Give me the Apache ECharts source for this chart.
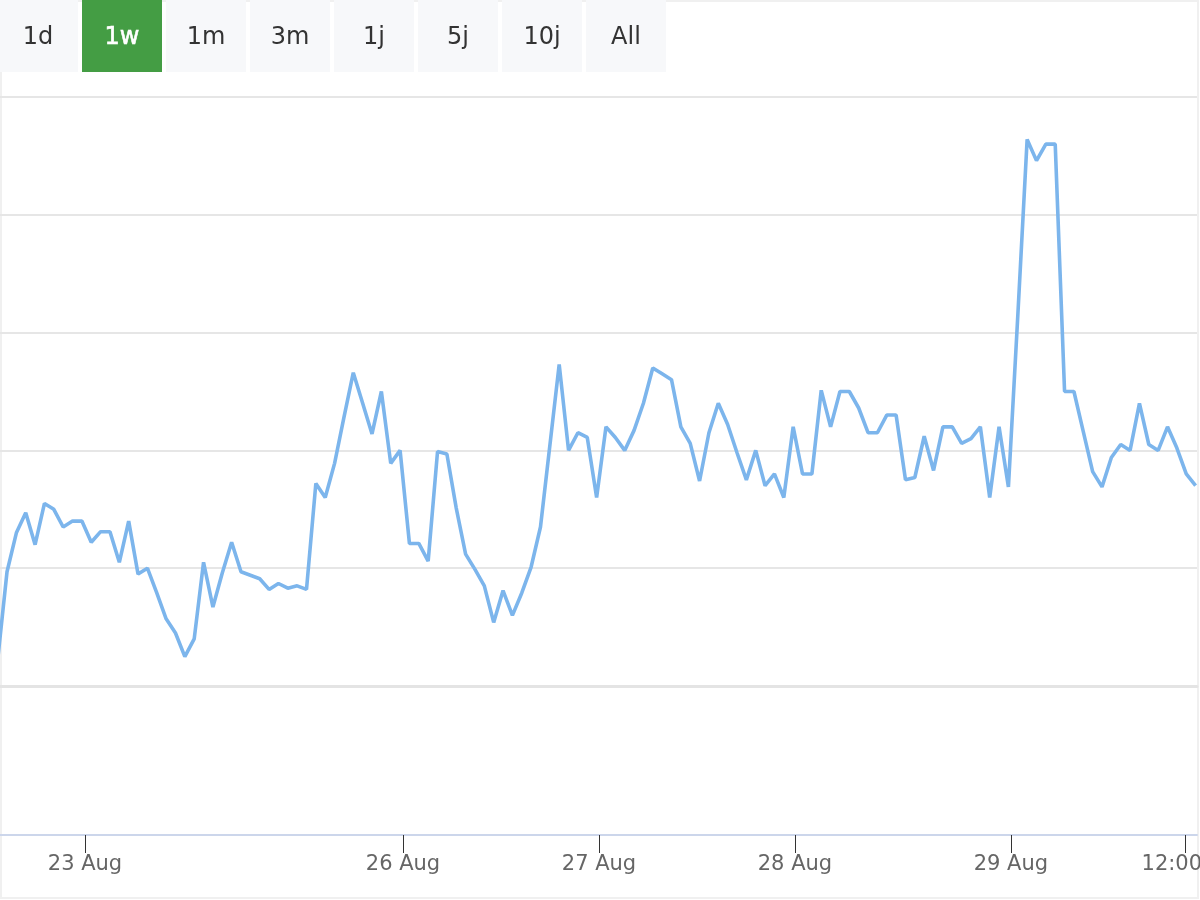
<!DOCTYPE html>
<html>
<head>
<meta charset="utf-8">
<script src="https://cdn.jsdelivr.net/npm/echarts@6/dist/echarts.min.js"></script>
<style>
    html, body { margin: 0; padding: 0; background: #fff; }
    #chart { width: 1200px; height: 900px; }
</style>
</head>
<body>
<div id="chart"></div>
<script>
// point values (ordinal axis, one per data point), first one sits just off the left edge
const values = [
    2.2, 9.7, 13.0, 14.7, 12.0, 15.5, 15.0, 13.5, 14.0, 14.0,
    12.2, 13.1, 13.1, 10.5, 14.0, 9.5, 10.0, 7.9, 5.7, 4.5,
    2.5, 4.0, 10.5, 6.7, 9.6, 12.2, 9.7, 9.4, 9.1, 8.2,
    8.7, 8.3, 8.5, 8.2, 17.2, 16.0, 18.9, 22.8, 26.6, 24.0,
    21.4, 25.0, 18.9, 20.0, 12.1, 12.1, 10.6, 19.9, 19.7, 15.1,
    11.2, 9.9, 8.5, 5.4, 8.1, 6.0, 7.9, 10.1, 13.5, 20.4,
    27.3, 20.0, 21.5, 21.1, 16.0, 22.0, 21.1, 20.0, 21.7, 24.0,
    27.0, 26.5, 26.0, 22.0, 20.6, 17.4, 21.5, 24.0, 22.2, 19.8,
    17.5, 20.0, 17.0, 18.0, 16.0, 22.0, 18.0, 18.0, 25.1, 22.0,
    25.0, 25.0, 23.6, 21.5, 21.5, 23.0, 23.0, 17.5, 17.7, 21.2,
    18.3, 22.0, 22.0, 20.6, 21.0, 22.0, 16.0, 22.0, 16.9, 31.4,
    46.4, 44.6, 46.0, 46.0, 25.0, 25.0, 21.6, 18.2, 16.9, 19.4,
    20.5, 20.0, 24.0, 20.5, 20.0, 22.0, 20.2, 18.0, 17.0
];
const tickPositions = [9.33, 43.31, 64.25, 85.19, 108.26, 126.85];
const tickLabels = ["23 Aug", "26 Aug", "27 Aug", "28 Aug", "29 Aug", "12:00"];
const rangeButtons = ["1d", "1w", "1m", "3m", "1j", "5j", "10j", "All"];
const selectedRange = "1w";

const font = "DejaVu Sans";
let chart = echarts.init(document.getElementById("chart"));

// range selector buttons
let buttons = rangeButtons.map(function (name, i) {
    let active = name === selectedRange;
    return {
        type: "group",
        x: -2 + i * 84,
        y: 0,
        children: [
            {
                type: "rect",
                shape: { x: 0, y: 0, width: 80, height: 72 },
                style: { fill: active ? "#449d44" : "#f7f8fa" }
            },
            {
                type: "text",
                x: 40,
                y: 38,
                style: {
                    text: name,
                    fill: active ? "#ffffff" : "#333333",
                    font: "24px '" + font + "'",
                    align: "center",
                    verticalAlign: "middle",
                    // selected label looks a touch heavier
                    stroke: active ? "#ffffff" : null,
                    lineWidth: active ? 0.6 : 0
                }
            }
        ]
    };
});

const option = {
    animation: false,
    backgroundColor: "#ffffff",
    textStyle: { fontFamily: font },
    graphic: [
        {
            type: "rect",
            z: -10,
            shape: { x: 1, y: 1, width: 1197, height: 897 },
            style: { fill: "none", stroke: "#f0f0f0", lineWidth: 2 }
        }
    ].concat(buttons),
    grid: [
        { left: 0, top: 97, width: 1197, height: 589, containLabel: false, outerBoundsMode: "none" },
        { left: 0, top: 688, width: 1197, height: 147, containLabel: false, outerBoundsMode: "none" }
    ],
    xAxis: [
        {
            type: "value",
            gridIndex: 0,
            min: 0.25,
            max: 128.15,
            axisLine: { show: true, onZero: false, lineStyle: { color: "#e4e4e4", width: 3 } },
            axisTick: { show: false },
            axisLabel: { show: false },
            splitLine: { show: false }
        },
        {
            type: "value",
            gridIndex: 1,
            min: 0.25,
            max: 128.15,
            axisLine: { show: true, onZero: false, lineStyle: { color: "#ccd6eb", width: 2 } },
            axisTick: {
                show: true,
                customValues: tickPositions,
                length: 18,
                lineStyle: { color: "#333333", width: 1 }
            },
            axisLabel: {
                show: true,
                customValues: tickPositions,
                margin: 19,
                color: "#666666",
                fontSize: 21,
                fontFamily: font,
                formatter: function (v) {
                    let k = tickPositions.indexOf(v);
                    if (k < 0) return "";
                    // last label is pushed left so it stays (mostly) inside the chart
                    return k === tickLabels.length - 1 ? "{last|" + tickLabels[k] + "}" : tickLabels[k];
                },
                rich: {
                    last: {
                        color: "#666666",
                        fontSize: 21,
                        fontFamily: font,
                        padding: [0, 26, 0, 0]
                    }
                }
            },
            splitLine: { show: false }
        }
    ],
    yAxis: [
        {
            type: "value",
            gridIndex: 0,
            min: 0,
            max: 50,
            interval: 10,
            axisLine: { show: false },
            axisTick: { show: false },
            axisLabel: { show: false },
            splitLine: { lineStyle: { color: "#e6e6e6", width: 2 } }
        },
        {
            type: "value",
            gridIndex: 1,
            min: 0,
            max: 1,
            show: false
        }
    ],
    series: [
        {
            type: "line",
            xAxisIndex: 0,
            yAxisIndex: 0,
            data: values.map(function (v, i) { return [i, v]; }),
            showSymbol: false,
            clip: true,
            lineStyle: { color: "#7cb5ec", width: 3.6 }
        }
    ]
};
chart.setOption(option);
</script>
</body>
</html>
